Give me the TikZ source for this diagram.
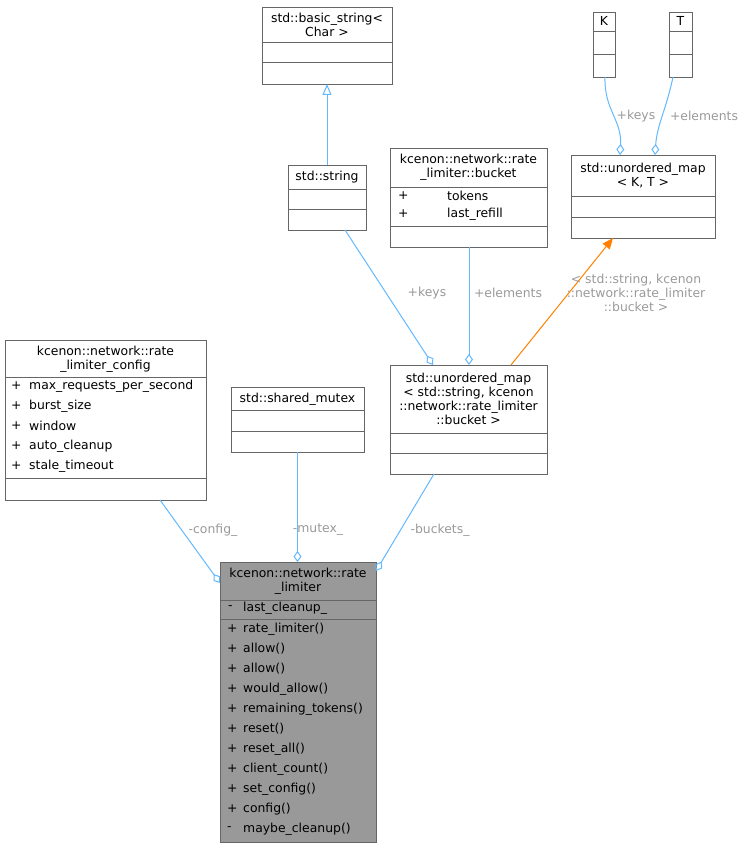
\documentclass[tikz,border=0pt]{standalone}
\usepackage{fontspec}
\setmainfont{DejaVu Sans}
\usetikzlibrary{arrows.meta}
\definecolor{edge}{HTML}{63B8FF}
\definecolor{bord}{HTML}{666666}
\definecolor{lab}{HTML}{9A9A9A}
\begin{document}
\begin{tikzpicture}[x=1pt,y=-1pt,
  box/.style={draw=bord,fill=white,anchor=north west,inner sep=0,line width=1pt},
  t/.style={font=\fontsize{12.4}{14}\selectfont,align=center,inner sep=0},
  m/.style={font=\fontsize{12.4}{14}\selectfont,anchor=west,inner sep=0},
  lb/.style={font=\fontsize{12.4}{14}\selectfont,text=lab,align=center,inner sep=0},
  e/.style={draw=edge,line width=1pt},
  agg/.style={e,-{Diamond[open,length=11pt,width=8pt]}},
  sep/.style={draw=bord,line width=1pt}]
\useasboundingbox (0,0) rectangle (747,848);
% basic_string
\node[box,minimum width=130,minimum height=77] (bs) at (262,7) {};
\node[t] at (327,25) {std::basic\_string<\\Char >};
\draw[sep] (262,43)--(392,43) (262,63)--(392,63);
% K, T
\node[box,minimum width=22,minimum height=65] (K) at (593,12) {};
\node[t] at (604,21) {K};
\draw[sep] (593,32)--(615,32) (593,55)--(615,55);
\node[box,minimum width=23,minimum height=65] (T) at (669,12) {};
\node[t] at (680.5,21) {T};
\draw[sep] (669,32)--(692,32) (669,55)--(692,55);
% unordered_map<K,T>
\node[box,minimum width=144,minimum height=83] (umkt) at (571,155) {};
\node[t] at (643,176) {std::unordered\_map\\< K, T >};
\draw[sep] (571,196)--(715,196) (571,217)--(715,217);
% std::string
\node[box,minimum width=78,minimum height=65] (str) at (288,165) {};
\node[t] at (327,177) {std::string};
\draw[sep] (288,189)--(366,189) (288,209)--(366,209);
% bucket
\node[box,minimum width=157,minimum height=99] (bk) at (390,148) {};
\node[t] at (468.5,167) {kcenon::network::rate\\\_limiter::bucket};
\draw[sep] (390,187)--(547,187) (390,226)--(547,226);
\node[m] at (398,196) {+};
\node[m] at (447,196) {tokens};
\node[m] at (398,214) {+};
\node[m] at (447,214) {last\_refill};
% config
\node[box,minimum width=201,minimum height=160] (cfg) at (5,340) {};
\node[t] at (105.5,359) {kcenon::network::rate\\\_limiter\_config};
\draw[sep] (5,377)--(206,377) (5,478)--(206,478);
\foreach \y/\s in {386/max\_requests\_per\_second,406/burst\_size,426/window,446/auto\_cleanup,466/stale\_timeout}{
  \node[m] at (11,\y) {+};
  \node[m] at (29,\y) {\s};}
% shared_mutex
\node[box,minimum width=133,minimum height=65] (mx) at (231,387) {};
\node[t] at (297.5,399) {std::shared\_mutex};
\draw[sep] (231,410)--(364,410) (231,431)--(364,431);
% big map
\node[box,minimum width=157,minimum height=109] (um) at (390,365) {};
\node[t] at (468.5,399) {std::unordered\_map\\< std::string, kcenon\\::network::rate\_limiter\\::bucket >};
\draw[sep] (390,433)--(547,433) (390,453)--(547,453);
% rate_limiter
\node[box,fill=black!40,minimum width=156,minimum height=280] (rl) at (220,562) {};
\node[t] at (298,581) {kcenon::network::rate\\\_limiter};
\draw[sep] (220,600)--(376,600) (220,619)--(376,619);
\node[m] at (228,608) {-};
\node[m] at (243,608) {last\_cleanup\_};
\foreach \i/\s/\v in {0/rate\_limiter()/+,1/allow()/+,2/allow()/+,3/would\_allow()/+,4/remaining\_tokens()/+,5/reset()/+,6/reset\_all()/+,7/client\_count()/+,8/set\_config()/+,9/config()/+,10/maybe\_cleanup()/-}{
  \node[m] at (227,629+\i*20) {\v};
  \node[m] at (243,629+\i*20) {\s};}
% edges
\coordinate (bsb) at (327,84);
\coordinate (strt) at (327,165);
\draw[e,-{Triangle[open,length=11pt,width=9pt]}] (strt) -- (bsb);
\coordinate (Kb) at (605,77); \coordinate (Td) at (673,77);
\coordinate (ukd1) at (620,155); \coordinate (ukd2) at (655,155);
\draw[agg] (Kb) .. controls (604,110) and (622,120) .. (ukd1);
\node[lb] at (636,116) {+keys};
\draw[agg] (Td) .. controls (666,110) and (657,125) .. (ukd2);
\node[lb] at (704,116) {+elements};
\coordinate (strb) at (345,230);
\draw[agg] (strb) -- (433,365);
\node[lb] at (427,293) {+keys};
\coordinate (bkb) at (469,247);
\draw[agg] (bkb) -- (469,365);
\node[lb] at (508,293) {+elements};
\draw[draw=orange,line width=1pt,-{Triangle[length=11pt,width=9pt]}] (511,365) -- (613,238);
\node[lb] at (636,293) {< std::string, kcenon\\::network::rate\_limiter\\::bucket >};
\draw[agg] (160,500) -- (220,583);
\node[lb] at (213,530) {-config\_};
\draw[agg] (297.5,452) -- (297.5,562);
\node[lb] at (318,530) {-mutex\_};
\draw[agg] (434,474) -- (376,571);
\node[lb] at (440,530) {-buckets\_};
\end{tikzpicture}
\end{document}
